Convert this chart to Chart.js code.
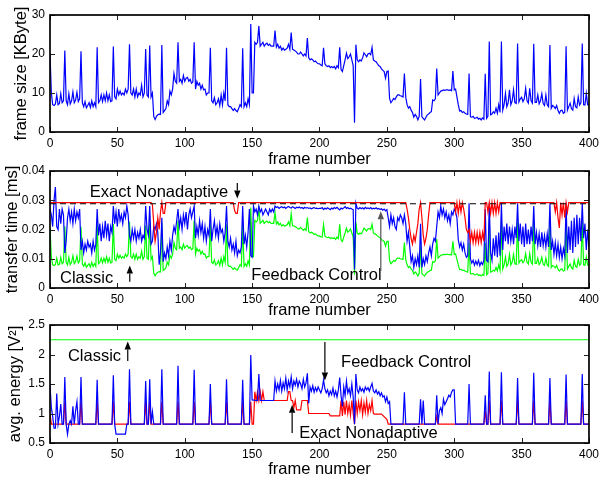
<!DOCTYPE html>
<html><head><meta charset="utf-8">
<script src="https://cdn.jsdelivr.net/npm/chart.js@4.4.1/dist/chart.umd.min.js"></script>
<style>
html,body{margin:0;padding:0;background:#fff;}
canvas{position:absolute;left:0;top:0;}
</style></head>
<body>
<canvas id="c1" width="603" height="479"></canvas>
<canvas id="c2" width="603" height="479"></canvas>
<canvas id="c3" width="603" height="479"></canvas>
<script>
// ---------- DATA ----------
const xTicks = [0, 50, 100, 150, 200, 250, 300, 350, 400];
const frames = Array.from({length: 401}, (_, i) => i);

// frame size [KByte], frames 0..400
const frameSize = [
20.2,10,7,6.8,7.2,9.5,7,7.3,9.8,7.5,
8,20.9,8,7,9.8,7.2,8,10.3,7.5,8.2,
10.2,7.8,8.5,20.7,7.5,6.5,7.8,6.2,6.8,7.5,
6.3,8,6.5,7.5,6.5,21.7,7.5,8,9.5,7.8,
9.5,8,10,8,9.5,7.8,8,21.9,9,8.5,
11,9.5,10.5,9.5,10,9.5,11,10,11,22.5,
10,9.5,11,9,11,9,10,9.5,12,9,
10,21.3,9.5,9,22.2,9,10,4,3.2,4,
4.4,4.6,4.5,22.3,5,5.5,6,8,7,10.5,
9.5,11,15,13,12.5,23,13,13.5,12.5,14.5,
13,13.8,14,13,13.5,12.5,12.8,23,11,13,
12,12.5,11,12,10.8,11,9.5,10,10,21.6,
8,7.5,8.8,7,7.5,8.5,6.8,9.5,7,10,
8,21.6,7,6.5,6.5,6,5.5,6,5.5,5.2,
6,7,6.5,21.5,6.5,7.5,6.5,8.5,7,27.7,
10,10,23,22.5,23,27.2,22,22.5,23,22,
22.5,22.8,22.2,22.5,22,22,22,26,21.8,22.5,
21.5,22,21,21.5,21,21.2,21.5,22.5,21.2,25.5,
21.2,21,20.8,20.5,20,20,20.5,20,19.5,20,
19.5,24.1,19,18.5,18.8,18.5,18,18.2,17.8,17.5,
17.5,17.2,17,21.6,17.5,17,16.8,17,16.5,16.8,
16.5,16.8,16.2,17,16.5,21.7,16,15.5,17,18.5,
20.2,18.8,19.3,20,18.5,17,2.4,22.4,18.5,18,
18.5,18.2,19,20.3,19.8,19.3,20,20.2,19.8,21.7,
18.5,18.2,18,17.5,17,16.8,16.2,15.8,15.5,13.8,
15.5,15.6,8.6,7.5,8,8.6,8.3,9,9.5,9.5,
9.3,9.2,9,15,8.9,7,6.1,6.5,5.6,5,
3.8,4.5,4,3.1,4,13.6,3.9,3.5,3.1,3.8,
4.4,4.6,5,5.2,8.2,8,8.5,16.3,9.5,10,
10.5,10.6,10.8,10.7,10.8,10.8,10.7,10.8,10.6,15.6,
10.8,11,9,7,5.4,5.5,5,5.2,4.8,4.6,
4.5,15,3.9,3.8,4,3.5,3.6,3.8,3.3,3.5,
3.1,3.6,3.3,14.9,3.5,4,23.2,4.4,4.6,5.2,
4.8,6.1,4.8,7,5,23.2,5.6,7,9.9,6.5,
7.5,10.8,7,8,10.8,7.5,7.3,22.7,7.7,8.5,
8.9,7.8,8.5,11.2,8,7.4,11.2,8,7.4,22.6,
7.6,7.6,9.5,7.2,8,9.8,7.3,6.8,9.5,7,
6.5,22.3,6.1,6.8,6.5,6,6.8,5.5,4.8,5.5,
5.6,4.8,5,22,5.6,6.5,7.4,6,5.6,8.6,
6.5,6.2,9,6.9,7.5,22.7,7,6.9,9.9,7,
6.9];

// transfer time [ms] - Classic (green), frames 0..400
const classicTime = [
0.0204,0.0107,0.0079,0.0077,0.0080,0.0102,0.0079,0.0081,0.0105,0.0083,
0.0088,0.0211,0.0088,0.0079,0.0105,0.0080,0.0088,0.0110,0.0083,0.0090,
0.0109,0.0086,0.0093,0.0209,0.0083,0.0074,0.0086,0.0071,0.0077,0.0083,
0.0072,0.0088,0.0074,0.0083,0.0074,0.0218,0.0083,0.0088,0.0102,0.0086,
0.0102,0.0088,0.0107,0.0088,0.0102,0.0086,0.0088,0.0220,0.0098,0.0093,
0.0116,0.0102,0.0112,0.0102,0.0107,0.0102,0.0116,0.0107,0.0116,0.0226,
0.0107,0.0102,0.0116,0.0098,0.0116,0.0098,0.0107,0.0102,0.0126,0.0098,
0.0107,0.0214,0.0102,0.0098,0.0223,0.0098,0.0107,0.0050,0.0042,0.0050,
0.0054,0.0056,0.0055,0.0224,0.0060,0.0064,0.0069,0.0088,0.0079,0.0112,
0.0102,0.0116,0.0155,0.0136,0.0131,0.0231,0.0136,0.0140,0.0131,0.0150,
0.0136,0.0143,0.0145,0.0136,0.0140,0.0131,0.0134,0.0231,0.0116,0.0136,
0.0126,0.0131,0.0116,0.0126,0.0115,0.0116,0.0102,0.0107,0.0107,0.0217,
0.0088,0.0083,0.0096,0.0079,0.0083,0.0093,0.0077,0.0102,0.0079,0.0107,
0.0088,0.0217,0.0079,0.0074,0.0074,0.0069,0.0064,0.0069,0.0064,0.0061,
0.0069,0.0079,0.0074,0.0216,0.0074,0.0083,0.0074,0.0093,0.0079,0.0275,
0.0107,0.0107,0.0231,0.0226,0.0231,0.0270,0.0221,0.0226,0.0231,0.0221,
0.0226,0.0229,0.0223,0.0226,0.0221,0.0221,0.0221,0.0259,0.0219,0.0226,
0.0216,0.0221,0.0212,0.0216,0.0212,0.0213,0.0216,0.0226,0.0213,0.0254,
0.0213,0.0212,0.0210,0.0207,0.0202,0.0202,0.0207,0.0202,0.0197,0.0202,
0.0197,0.0241,0.0193,0.0188,0.0191,0.0188,0.0183,0.0185,0.0181,0.0178,
0.0178,0.0175,0.0174,0.0217,0.0178,0.0174,0.0172,0.0174,0.0169,0.0172,
0.0169,0.0172,0.0166,0.0174,0.0169,0.0218,0.0164,0.0159,0.0174,0.0188,
0.0204,0.0191,0.0195,0.0202,0.0188,0.0174,0.0045,0.0225,0.0188,0.0183,
0.0188,0.0185,0.0193,0.0205,0.0200,0.0195,0.0202,0.0204,0.0200,0.0218,
0.0188,0.0185,0.0183,0.0178,0.0174,0.0172,0.0166,0.0162,0.0159,0.0143,
0.0159,0.0160,0.0094,0.0083,0.0088,0.0094,0.0091,0.0098,0.0102,0.0102,
0.0100,0.0099,0.0098,0.0155,0.0097,0.0079,0.0070,0.0074,0.0065,0.0060,
0.0048,0.0055,0.0050,0.0041,0.0050,0.0141,0.0049,0.0045,0.0041,0.0048,
0.0054,0.0056,0.0060,0.0061,0.0090,0.0088,0.0093,0.0167,0.0102,0.0107,
0.0112,0.0113,0.0115,0.0114,0.0115,0.0115,0.0114,0.0115,0.0113,0.0160,
0.0115,0.0116,0.0098,0.0079,0.0063,0.0064,0.0060,0.0061,0.0058,0.0056,
0.0055,0.0155,0.0049,0.0048,0.0050,0.0045,0.0046,0.0048,0.0043,0.0045,
0.0041,0.0046,0.0043,0.0154,0.0045,0.0050,0.0232,0.0054,0.0056,0.0061,
0.0058,0.0070,0.0058,0.0079,0.0060,0.0232,0.0065,0.0079,0.0106,0.0074,
0.0083,0.0115,0.0079,0.0088,0.0115,0.0083,0.0081,0.0228,0.0085,0.0093,
0.0097,0.0086,0.0093,0.0118,0.0088,0.0082,0.0118,0.0088,0.0082,0.0227,
0.0084,0.0084,0.0102,0.0080,0.0088,0.0105,0.0081,0.0077,0.0102,0.0079,
0.0074,0.0224,0.0070,0.0077,0.0074,0.0069,0.0077,0.0064,0.0058,0.0064,
0.0065,0.0058,0.0060,0.0221,0.0065,0.0074,0.0082,0.0069,0.0065,0.0094,
0.0074,0.0071,0.0098,0.0078,0.0083,0.0228,0.0079,0.0078,0.0106,0.0079,
0.0078];

// transfer time [ms] - Feedback Control (blue), frames 0..400
const feedbackTime = [
0.027,0.025,0.021,0.030,0.0345,0.021,0.020,0.027,0.022,0.027,0.025,
0.012,0.016,0.024,0.027,0.023,0.026,0.022,0.027,0.023,0.026,0.024,0.027,
0.013,0.016,0.012,0.015,0.013,0.016,0.014,0.015,0.012,0.016,0.013,0.015,
0.027,
0.018,0.022,0.016,0.021,0.017,0.023,0.018,0.022,0.016,0.021,0.019,
0.028,
0.022,0.026,0.021,0.027,0.023,0.025,0.022,0.026,0.024,0.028,0.025,
0.018,
0.016,0.020,0.017,0.020,0.016,0.019,0.017,0.020,0.016,0.018,0.017,
0.028,0.020,0.018,0.028,0.015,0.016,0.021,0.020,0.022,0.019,0.008,0.012,0.024,0.009,0.012,
0.010,0.014,0.011,0.016,0.013,0.018,0.021,0.019,0.023,0.027,0.021,0.024,0.020,0.025,
0.022,0.026,0.020,0.025,0.027,0.024,0.026,
0.028,
0.017,0.021,0.018,0.023,0.019,0.022,0.017,0.021,0.016,0.020,0.018,0.027,0.016,
0.020,0.023,0.018,0.021,0.017,0.022,0.019,0.020,0.016,0.019,
0.028,
0.016,0.014,0.017,0.013,0.015,0.012,0.016,0.011,0.013,0.012,0.014,
0.028,
0.015,0.018,0.014,0.019,0.027,
0.011,0.0105,0.028,
0.026,0.027,0.025,0.028,0.026,0.027,0.025,0.026,0.027,0.026,0.025,0.027,0.026,0.027,0.026,
0.028,0.0275,0.0278,0.0272,0.0276,0.0278,0.0274,0.0277,0.0272,0.0276,0.0279,0.0275,0.0273,0.0278,0.0275,0.0272,0.0276,
0.0274,0.0277,0.0273,0.0275,0.0271,0.0276,0.0273,0.0275,0.0272,0.0274,0.0271,0.0273,0.0275,0.0272,0.0273,0.0271,0.0272,
0.0272,0.0275,0.0268,0.0273,0.0270,0.0274,0.0271,0.0268,0.0273,0.0270,0.0275,0.0272,0.0276,0.0271,0.0267,0.0273,
0.0270,0.0274,0.0278,0.0272,0.0275,0.0271,0.0273,0.0270,0.0268,
0.0063,0.029,
0.0272,0.0270,0.0275,0.0271,0.0274,0.0270,0.0276,0.0272,0.0274,0.0271,0.0275,0.0270,
0.0273,0.0271,0.0274,0.0270,0.0272,0.0268,0.0271,0.0266,0.0270,0.0264,0.0268,
0.024,0.021,0.025,0.022,0.024,0.021,0.020,0.024,0.023,0.025,
0.024,0.022,0.025,0.022,0.016,0.019,0.014,0.009,0.011,0.007,
0.010,0.008,0.011,0.007,0.022,0.007,0.010,0.008,0.011,0.009,
0.012,0.014,0.011,0.015,0.017,0.016,0.021,0.026,0.024,0.028,
0.025,0.027,0.024,0.026,0.023,0.025,0.022,0.026,0.025,0.027,
0.026,0.024,0.0165,0.014,0.0155,0.013,0.015,0.012,0.0105,0.011,
0.029,0.010,0.0085,0.0095,0.0078,0.0092,0.0080,0.0095,0.0076,0.0088,
0.0080,0.0095,0.027,0.0095,0.009,0.029,0.012,0.0095,0.017,0.011,
0.018,0.0105,0.019,0.011,0.029,0.013,0.021,0.016,0.022,0.015,
0.021,0.016,0.020,0.015,0.021,0.017,0.029,0.016,0.022,0.015,
0.021,0.014,0.022,0.015,0.020,0.015,0.021,0.016,0.028,0.015,
0.019,0.0145,0.0185,0.014,0.019,0.0145,0.018,0.014,0.0185,0.014,
0.029,0.013,0.016,0.0115,0.0155,0.011,0.015,0.0105,0.014,0.010,
0.0135,0.011,0.029,0.012,0.021,0.013,0.023,0.012,0.024,0.014,
0.025,0.015,0.024,0.016,0.029,0.017,0.022,0.013,0.020,0.014];

// transfer time [ms] - Exact Nonadaptive (red), [frame, value]
const exactTime = [
[0,0.0292],[75,0.0292],[76,0.0285],[77,0.022],[78,0.016],[79,0.019],[80,0.024],[81,0.020],[82,0.026],
[83,0.0292],[84,0.0255],[85,0.0255],[86,0.0292],[136,0.0292],[137,0.0265],[138,0.0255],[139,0.0255],
[140,0.0292],[264,0.0292],[265,0.027],[266,0.024],[267,0.020],[268,0.017],[269,0.015],[270,0.018],
[271,0.016],[272,0.019],[273,0.022],[274,0.027],[275,0.0292],[276,0.024],[277,0.018],[278,0.015],
[279,0.017],[280,0.020],[281,0.025],[282,0.0292],[300,0.0292],[301,0.026],[302,0.0292],[303,0.0255],
[304,0.0292],[305,0.026],[306,0.0292],[307,0.027],[308,0.024],[309,0.020],[310,0.019],[311,0.020],
[312,0.016],[313,0.019],[314,0.0155],[315,0.019],[316,0.0155],[317,0.019],[318,0.0155],[319,0.019],
[320,0.0155],[321,0.019],[322,0.016],[323,0.0292],[324,0.0292],[325,0.026],[326,0.0292],[327,0.0255],
[328,0.0292],[329,0.0255],[330,0.0292],[331,0.0255],[332,0.0292],[333,0.026],[334,0.0292],[374,0.0292],
[375,0.026],[376,0.0292],[377,0.024],[378,0.0205],[379,0.0292],[380,0.025],[381,0.0292],[382,0.024],
[383,0.0292],[384,0.026],[385,0.0292],[400,0.0292]];

// deadline (black dashed)
const deadlineTime = [[0,0.0288],[400,0.0288]];

// avg. energy [V^2]
const classicEnergy = [[0,2.25],[400,2.25]];
const feedbackEnergy = [
[0,1.48],[1,1.1],[2,0.95],[3,0.75],[4,0.75],[5,1.34],[6,0.82],[7,0.95],[8,1.16],[9,0.82],[10,0.82],
[11,1.62],[12,0.82],[13,0.65],[14,0.82],[15,0.88],[16,0.82],[17,1.12],[18,0.82],[19,1.05],[20,1.2],
[21,0.82],[22,0.82],[23,1.62],[24,0.82],[34,0.82],[35,1.57],[36,0.82],[46,0.82],[47,1.65],[48,0.82],
[49,0.65],[56,0.65],[57,0.82],[58,0.82],[59,1.75],[60,0.82],[70,0.82],[71,1.55],[72,0.82],[73,0.82],
[74,1.58],[75,0.82],[76,1.03],[77,0.82],[82,0.82],[83,1.75],[84,0.82],[94,0.82],[95,1.81],[96,0.82],
[106,0.82],[107,1.74],[108,0.82],[118,0.82],[119,1.5],[120,0.82],[130,0.82],[131,1.58],[132,0.82],
[142,0.82],[143,1.57],[144,0.82],[148,0.82],[149,1.99],[150,1.23],[154,1.22],[155,1.67],[156,1.22],
[166,1.22],[167,1.55],[168,1.38],[169,1.5],[170,1.4],[171,1.56],[172,1.38],[173,1.52],[174,1.42],
[175,1.6],[176,1.4],[177,1.55],[178,1.45],[179,1.62],[180,1.42],[181,1.55],[182,1.48],[183,1.58],
[184,1.45],[185,1.55],[186,1.5],[187,1.42],[188,1.58],[189,1.45],[190,1.52],[191,1.68],[192,1.17],
[193,1.45],[194,1.38],[195,1.47],[196,1.36],[197,1.44],[198,1.38],[199,1.45],[200,1.4],[201,1.35],
[202,1.42],[203,1.57],[204,1.42],[205,1.35],[206,1.4],[207,1.3],[208,1.38],[209,1.32],[210,1.43],
[211,1.3],[212,1.38],[213,1.28],[214,1.4],[215,1.61],[216,1.3],[217,1.12],[218,1.45],[219,1.3],
[220,1.55],[221,1.35],[222,1.42],[223,1.3],[224,1.5],[225,1.28],[226,0.82],[227,1.67],[228,1.4],
[229,1.35],[230,1.45],[231,1.38],[232,1.42],[233,1.36],[234,1.45],[235,1.4],[236,1.44],[237,1.38],
[238,1.45],[239,1.51],[240,1.38],[241,1.35],[242,1.4],[243,1.33],[244,1.37],[245,1.3],[246,1.35],
[247,1.28],[248,1.3],[249,1.2],[250,1.28],[251,1.17],[252,1.2],[253,0.82],[262,0.82],[263,1.36],
[264,0.82],[274,0.82],[275,1.24],[276,0.82],[277,1.22],[278,0.82],[286,0.82],[287,1.31],[288,0.82],
[289,1.05],[290,1.1],[291,1.0],[292,1.24],[293,1.15],[294,1.2],[295,1.25],[296,1.31],[297,1.28],
[298,1.36],[299,1.4],[300,1.4],[301,0.82],[310,0.82],[311,1.5],[312,0.82],[322,0.82],[323,1.31],
[324,0.82],[325,0.82],[326,1.71],[327,0.82],[334,0.82],[335,1.7],[336,0.82],[346,0.82],[347,1.6],
[348,0.82],[358,0.82],[359,1.69],[360,0.82],[370,0.82],[371,1.6],[372,0.82],[382,0.82],[383,1.66],
[384,0.82],[394,0.82],[395,1.67],[396,0.82],[400,0.82]];
const exactEnergy = [
[0,1.0],[1,0.82],[10,0.82],[11,1.2],[12,0.82],[22,0.82],[23,1.2],[24,0.82],[34,0.82],[35,1.2],[36,0.82],
[46,0.82],[47,1.2],[48,0.82],[58,0.82],[59,1.2],[60,0.82],[70,0.82],[71,1.2],[72,0.82],[73,0.82],
[74,1.2],[75,0.82],[82,0.82],[83,1.2],[84,0.82],[94,0.82],[95,1.2],[96,0.82],[106,0.82],[107,1.2],
[108,0.82],[118,0.82],[119,1.2],[120,0.82],[130,0.82],[131,1.2],[132,0.82],[142,0.82],[143,1.2],
[144,0.82],[148,0.82],[149,1.2],[150,0.82],[151,0.82],[152,1.37],[153,1.22],[154,1.37],[155,1.22],
[156,1.37],[157,1.22],[158,1.37],[159,1.22],[176,1.22],[177,1.37],[178,1.37],[179,1.22],[180,1.22],
[181,1.1],[182,1.22],[183,1.06],[186,1.06],[187,1.22],[191,1.22],[192,1.0],[207,1.0],[208,0.96],
[215,0.96],[216,1.22],[217,0.96],[218,1.2],[219,0.98],[220,1.22],[221,1.0],[222,1.15],[223,0.97],
[224,1.22],[225,1.0],[226,0.82],[227,1.22],[228,1.0],[229,1.2],[230,1.05],[231,1.22],[232,0.98],
[233,1.18],[234,1.02],[235,1.22],[236,1.0],[237,1.15],[238,1.05],[239,1.22],[240,1.0],[241,0.99],
[246,0.99],[250,0.9],[251,0.82],[286,0.82],[287,0.95],[288,0.82],[322,0.82],[323,1.05],[324,0.82],
[325,0.82],[326,1.22],[327,0.82],[334,0.82],[335,1.22],[336,0.82],[346,0.82],[347,1.22],[348,0.82],
[358,0.82],[359,1.22],[360,0.82],[370,0.82],[371,1.22],[372,0.82],[382,0.82],[383,1.22],[384,0.82],
[394,0.82],[395,1.22],[396,0.82],[400,0.82]];

// annotations (data coordinates)
const timeNotes = [
  {text: 'Exact Nonadaptive', at: [29.5, 0.0328]},
  {text: 'Classic', at: [7.4, 0.0031]},
  {text: 'Feedback Control', at: [149.4, 0.0044]}
];
const timeArrows = [
  {from: [139, 0.0359], to: [139, 0.0306], color: '#000'},
  {from: [59.2, 0.0021], to: [59.2, 0.0077], color: '#000'},
  {from: [245.5, 0.0058], to: [245.5, 0.0262], color: '#555'}
];
const energyNotes = [
  {text: 'Classic', at: [13.3, 1.97]},
  {text: 'Feedback Control', at: [216, 1.87]},
  {text: 'Exact Nonadaptive', at: [185, 0.67]}
];
const energyArrows = [
  {from: [57.7, 1.89], to: [57.7, 2.22], color: '#000'},
  {from: [204, 2.21], to: [204, 1.56], color: '#000'},
  {from: [179.7, 0.67], to: [179.7, 1.15], color: '#000'}
];

// ---------- DRAWING ----------
const FONT = '"Liberation Sans", Arial, Helvetica, sans-serif';
Chart.defaults.font.family = FONT;
Chart.defaults.color = '#000';

const seriesPts = arr => arr.map((v, i) => ({x: frames[i], y: v}));
const pairPts = arr => arr.map(p => ({x: p[0], y: p[1]}));

const boxPlugin = {
  id: 'boxPlugin',
  afterDatasetsDraw(chart, args, opts) {
    const {ctx, chartArea: a, scales: {x, y}} = chart;
    ctx.save();
    ctx.font = '16.5px ' + FONT;
    ctx.fillStyle = '#000';
    ctx.textAlign = 'left';
    ctx.textBaseline = 'middle';
    (opts.notes || []).forEach(n => {
      ctx.fillText(n.text, x.getPixelForValue(n.at[0]), y.getPixelForValue(n.at[1]));
    });
    (opts.arrows || []).forEach(ar => {
      const x0 = x.getPixelForValue(ar.from[0]), y0 = y.getPixelForValue(ar.from[1]);
      const x1 = x.getPixelForValue(ar.to[0]), y1 = y.getPixelForValue(ar.to[1]);
      const ang = Math.atan2(y1 - y0, x1 - x0);
      const hl = 8, hw = 3.2;
      const bx = x1 - hl * Math.cos(ang), by = y1 - hl * Math.sin(ang);
      ctx.strokeStyle = ar.color; ctx.fillStyle = ar.color; ctx.lineWidth = 1.2;
      ctx.beginPath(); ctx.moveTo(x0, y0); ctx.lineTo(bx, by); ctx.stroke();
      ctx.beginPath(); ctx.moveTo(x1, y1);
      ctx.lineTo(bx + hw * Math.sin(ang), by - hw * Math.cos(ang));
      ctx.lineTo(bx - hw * Math.sin(ang), by + hw * Math.cos(ang));
      ctx.closePath(); ctx.fill();
    });
    // ticks (inward, all four sides)
    ctx.strokeStyle = '#222'; ctx.lineWidth = 1;
    const L = 5;
    ctx.beginPath();
    x.ticks.forEach(t => {
      const px = Math.round(x.getPixelForValue(t.value)) + 0.5;
      ctx.moveTo(px, a.bottom); ctx.lineTo(px, a.bottom - L);
      ctx.moveTo(px, a.top); ctx.lineTo(px, a.top + L);
    });
    y.ticks.forEach(t => {
      const py = Math.round(y.getPixelForValue(t.value)) + 0.5;
      ctx.moveTo(a.left, py); ctx.lineTo(a.left + L, py);
      ctx.moveTo(a.right, py); ctx.lineTo(a.right - L, py);
    });
    ctx.stroke();
    // axes box
    ctx.strokeStyle = '#000'; ctx.lineWidth = 1.7;
    ctx.strokeRect(a.left, a.top, a.right - a.left, a.bottom - a.top);
    ctx.restore();
  }
};

function xAxis(h) {
  return {
    type: 'linear', min: 0, max: 400,
    afterBuildTicks: s => { s.ticks = xTicks.map(v => ({value: v})); },
    ticks: {padding: 4, color: '#000', font: {size: 12}, maxRotation: 0, autoSkip: false},
    grid: {display: false, drawTicks: false}, border: {display: false},
    title: {display: true, text: 'frame number', color: '#000', font: {size: 16.5}, padding: {top: 0, bottom: 0}},
    afterFit: s => { s.height = h; }
  };
}
function yAxis(min, max, step, title, tp) {
  return {
    type: 'linear', min, max,
    ticks: {stepSize: step, padding: 5, color: '#000', font: {size: 12},
            callback: v => String(+Number(v).toFixed(4))},
    grid: {display: false, drawTicks: false}, border: {display: false},
    title: {display: true, text: title, color: '#000', font: {size: 16.5}, padding: {top: tp, bottom: 0}},
    afterFit: s => { s.width = 50; }
  };
}
function line(data, color, extra) {
  return Object.assign({data, borderColor: color, backgroundColor: color, borderWidth: 1.2,
    pointRadius: 0, tension: 0, fill: false}, extra || {});
}
function make(id, datasets, y, top, bottomPad, xh, plugOpts) {
  return new Chart(document.getElementById(id), {
    type: 'line',
    data: {datasets},
    options: {
      responsive: false, animation: false, devicePixelRatio: 1,
      layout: {padding: {left: 0, right: 12, top, bottom: bottomPad}},
      scales: {x: xAxis(xh), y},
      plugins: {legend: {display: false}, tooltip: {enabled: false}, boxPlugin: plugOpts || {}}
    },
    plugins: [boxPlugin]
  });
}

// top: frame size  (area 15..132)
make('c1', [line(seriesPts(frameSize), '#0000ff')],
  yAxis(0, 30, 10, 'frame size [KByte]', 12), 15, 479 - 132 - 37, 37);

// middle: transfer time (area 171..288)
make('c2', [
  line(pairPts(deadlineTime), '#000000', {borderDash: [6, 4], borderWidth: 1.1}),
  line(pairPts(exactTime), '#ff0000'),
  line(seriesPts(feedbackTime), '#0000ff'),
  line(seriesPts(classicTime), '#00ff00')
], yAxis(0, 0.04, 0.01, 'transfer time [ms]', 3), 171, 479 - 288 - 32, 32,
  {notes: timeNotes, arrows: timeArrows});

// bottom: avg. energy (area 325..443)
make('c3', [
  line(pairPts(feedbackEnergy), '#0000ff'),
  line(pairPts(exactEnergy), '#ff0000'),
  line(pairPts(classicEnergy), '#00ff00')
], yAxis(0.5, 2.5, 0.5, 'avg. energy [V²]', 6), 325, 0, 36,
  {notes: energyNotes, arrows: energyArrows});
</script>
</body></html>
